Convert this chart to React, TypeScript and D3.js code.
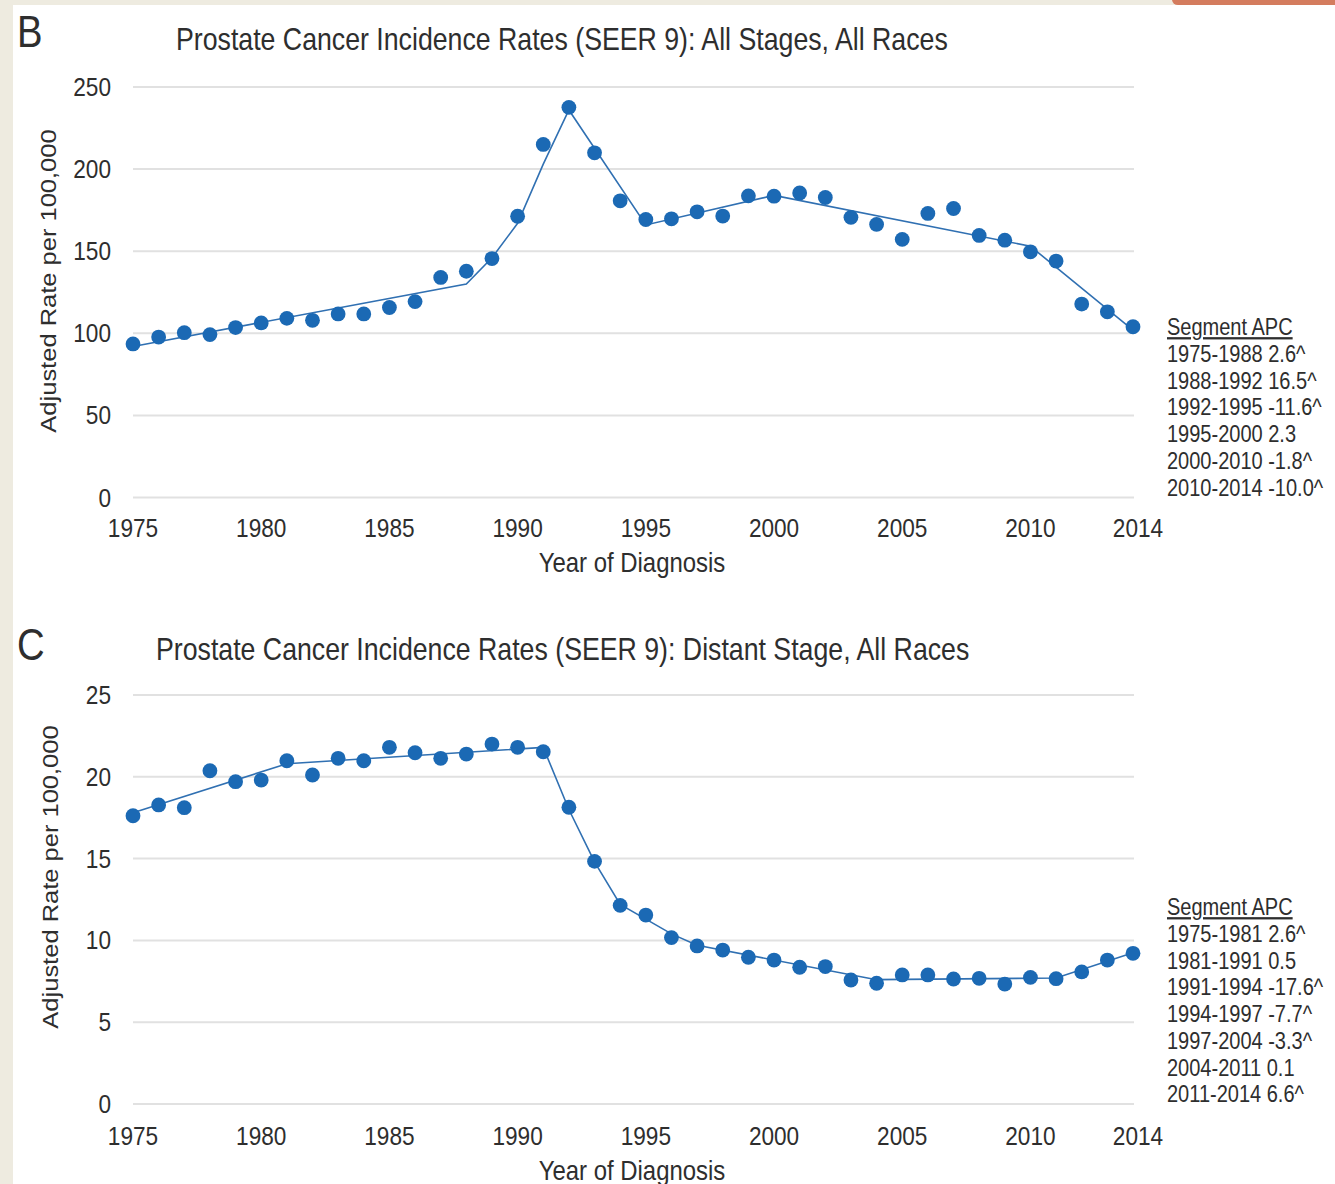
import React from 'react';
import * as d3 from 'd3';

// years of diagnosis shown on both panels
const years = d3.range(1975, 2015);
const xTicks = [1975, 1980, 1985, 1990, 1995, 2000, 2005, 2010, 2014];

// B: all stages, observed rates
const allStagesRates = [
  93.5, 97.7, 100.4, 99.2, 103.5, 106.3, 109.1, 107.9, 111.8, 111.8,
  115.7, 119.3, 134.0, 137.8, 145.5, 171.3, 215.0, 237.6, 209.9, 180.7,
  169.3, 169.7, 174.0, 171.4, 183.7, 183.5, 185.5, 182.7, 170.6, 166.3,
  157.2, 173.0, 176.0, 159.6, 156.7, 149.6, 144.0, 117.8, 113.1, 104.0,
];
// B: joinpoint fitted line
const allStagesFitYears = [1975, 1988, 1989, 1990, 1991, 1992, 1995, 2000, 2010, 2014];
const allStagesFitVals = [92, 130, 146, 167, 203, 236, 166, 184, 153, 102];
const allStagesYTicks = [0, 50, 100, 150, 200, 250];
const allStagesLegend = [
  '1975-1988 2.6^',
  '1988-1992 16.5^',
  '1992-1995 -11.6^',
  '1995-2000 2.3',
  '2000-2010 -1.8^',
  '2010-2014 -10.0^',
];

// C: distant stage, observed rates
const distantRates = [
  17.62, 18.28, 18.11, 20.37, 19.7, 19.8, 20.98, 20.11, 21.13, 20.98,
  21.8, 21.47, 21.13, 21.39, 22.0, 21.8, 21.53, 18.14, 14.83, 12.14,
  11.55, 10.17, 9.66, 9.41, 8.97, 8.8, 8.36, 8.4, 7.58, 7.38,
  7.89, 7.89, 7.64, 7.68, 7.33, 7.74, 7.66, 8.07, 8.8, 9.21,
];
const distantFitYears = [1975, 1981, 1991, 1992, 1993, 1994, 1995, 1996, 1997, 2004, 2011, 2014];
const distantFitVals = [17.8, 20.8, 21.8, 18.0, 14.8, 12.2, 11.3, 10.4, 9.7, 7.6, 7.7, 9.25];
const distantYTicks = [0, 5, 10, 15, 20, 25];
const distantLegend = [
  '1975-1981 2.6^',
  '1981-1991 0.5',
  '1991-1994 -17.6^',
  '1994-1997 -7.7^',
  '1997-2004 -3.3^',
  '2004-2011 0.1',
  '2011-2014 6.6^',
];

const FONT = "'Liberation Sans', Arial, Helvetica, sans-serif";
const TEXT = '#2e2e2e';
const DOT = '#1b69b4';
const LINE = '#3070b2';
const SX = 0.87; // the figure is a bit squeezed sideways

const HText = ({ x, y, size, anchor = 'start', children, deco }) => (
  <text
    transform={`translate(${x},${y}) scale(${SX},1)`}
    fontSize={size}
    textAnchor={anchor}
    fill={TEXT}
    fontFamily={FONT}
    style={deco ? { textDecoration: 'underline' } : undefined}
  >
    {children}
  </text>
);

const Panel = ({
  letter, letterY, title, titleX, titleY,
  yTop, yBottom, yMax, yTicks, rates, fitYears, fitVals,
  tickY, xTitleY, yLabelX, yLabelY, legend, legendY,
}) => {
  const x = d3.scaleLinear().domain([1975, 2014]).range([133, 1133]);
  const y = d3.scaleLinear().domain([0, yMax]).range([yBottom, yTop]);
  const line = d3
    .line<number>()
    .x((d, i) => x(fitYears[i]))
    .y((d) => y(d));

  return (
    <g>
      <HText x={17} y={letterY} size={44}>{letter}</HText>
      <HText x={titleX} y={titleY} size={30.7}>{title}</HText>
      {yTicks.map((t) => (
        <g key={t}>
          <line x1={133} x2={1134} y1={y(t)} y2={y(t)} stroke="#e1e1e1" strokeWidth={2} />
          <HText x={111} y={y(t) + 9} size={26} anchor="end">{t}</HText>
        </g>
      ))}
      {xTicks.map((t) => (
        <HText key={t} x={x(t) + (t === 2014 ? 5 : 0)} y={tickY} size={26} anchor="middle">{t}</HText>
      ))}
      <HText x={632} y={xTitleY} size={27.5} anchor="middle">Year of Diagnosis</HText>
      <text
        transform={`translate(${yLabelX},${yLabelY}) scale(${SX},1) rotate(-90)`}
        fontSize={25.5}
        textAnchor="middle"
        fill={TEXT}
        fontFamily={FONT}
      >
        Adjusted Rate per 100,000
      </text>
      <path d={line(fitVals)} fill="none" stroke={LINE} strokeWidth={1.6} />
      {rates.map((v, i) => (
        <circle key={years[i]} cx={x(years[i])} cy={y(v)} r={7.4} fill={DOT} />
      ))}
      <HText x={1167} y={legendY} size={23} deco>Segment APC</HText>
      {legend.map((s, i) => (
        <HText key={s} x={1167} y={legendY + 27 + i * 26.7} size={23}>{s}</HText>
      ))}
    </g>
  );
};

export default function App() {
  return (
    <svg
      width={1335}
      height={1184}
      style={{ position: 'absolute', left: 0, top: 0 }}
    >
      <rect width={1335} height={1184} fill="#eeebe0" />
      <rect x={13} y={5} width={1322} height={1179} fill="#fff" />
      <rect x={1172} y={-6} width={170} height={11} rx={6} fill="#d47c5e" />
      <Panel
        letter="B"
        letterY={47}
        title="Prostate Cancer Incidence Rates (SEER 9): All Stages, All Races"
        titleX={176}
        titleY={50}
        yTop={87}
        yBottom={497.5}
        yMax={250}
        yTicks={allStagesYTicks}
        rates={allStagesRates}
        fitYears={allStagesFitYears}
        fitVals={allStagesFitVals}
        tickY={537}
        xTitleY={572}
        yLabelX={56}
        yLabelY={281}
        legend={allStagesLegend}
        legendY={335}
      />
      <Panel
        letter="C"
        letterY={660}
        title="Prostate Cancer Incidence Rates (SEER 9): Distant Stage, All Races"
        titleX={156}
        titleY={660}
        yTop={695}
        yBottom={1104}
        yMax={25}
        yTicks={distantYTicks}
        rates={distantRates}
        fitYears={distantFitYears}
        fitVals={distantFitVals}
        tickY={1145}
        xTitleY={1180}
        yLabelX={58}
        yLabelY={877}
        legend={distantLegend}
        legendY={915}
      />
    </svg>
  );
}
